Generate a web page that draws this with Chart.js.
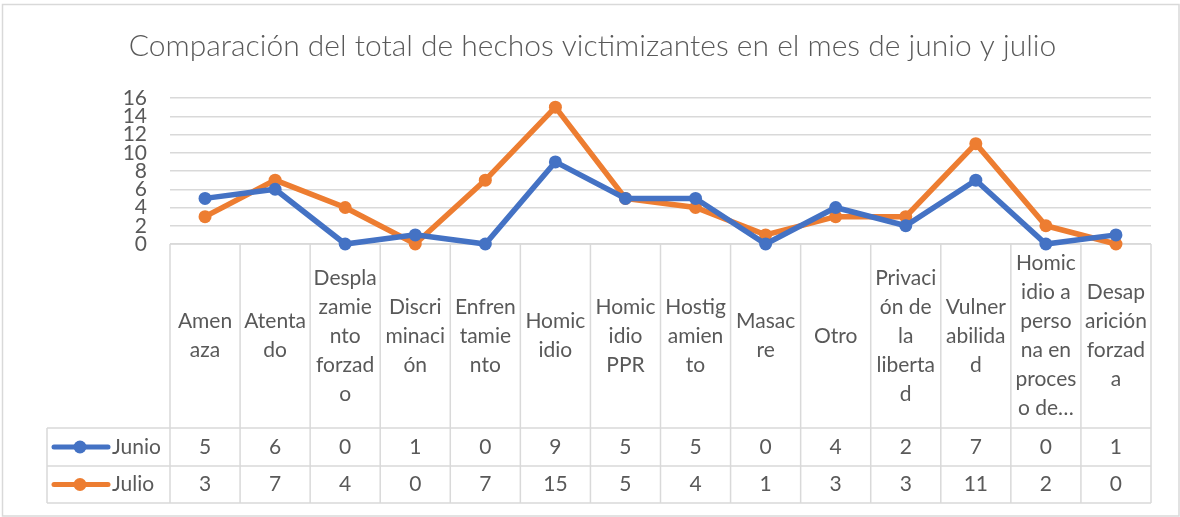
<!DOCTYPE html>
<html lang="es">
<head>
<meta charset="utf-8">
<title>Hechos victimizantes junio y julio</title>
<script src="https://cdn.jsdelivr.net/npm/chart.js@4"></script>
<style>
  html, body { margin: 0; padding: 0; background: #fff; }
  canvas { display: block; }
</style>
</head>
<body>
<canvas id="chart" width="1180" height="517"></canvas>
<script>
// --- données ---
const categories = [
  ['Amen', 'aza'],
  ['Atenta', 'do'],
  ['Despla', 'zamie', 'nto', 'forzad', 'o'],
  ['Discri', 'minaci', 'ón'],
  ['Enfren', 'tamie', 'nto'],
  ['Homic', 'idio'],
  ['Homic', 'idio', 'PPR'],
  ['Hostig', 'amien', 'to'],
  ['Masac', 're'],
  ['Otro'],
  ['Privaci', 'ón de', 'la', 'liberta', 'd'],
  ['Vulner', 'abilida', 'd'],
  ['Homic', 'idio a', 'perso', 'na en', 'proces', 'o de…'],
  ['Desap', 'arición', 'forzad', 'a']
];
const junio = [5, 6, 0, 1, 0, 9, 5, 5, 0, 4, 2, 7, 0, 1];
const julio = [3, 7, 4, 0, 7, 15, 5, 4, 1, 3, 3, 11, 2, 0];
const yTicks = [0, 2, 4, 6, 8, 10, 12, 14, 16];

const FONT = 'Lato';
const TEXT = '#595959';
const GRID = '#d9d9d9';

// --- tableau de données sous le graphique ---
const dataTable = {
  id: 'dataTable',
  beforeDatasetsDraw(chart) {
    const ctx = chart.ctx;
    const x = chart.scales.x;
    const area = chart.chartArea;
    const w = x.getPixelForValue(1) - x.getPixelForValue(0);
    const left = area.left, right = area.right;
    const top = area.bottom;
    const rowCat = 428, rowA = 466, rowB = 503;
    const legLeft = 47;

    ctx.save();
    ctx.strokeStyle = GRID;
    ctx.lineWidth = 1.5;
    ctx.beginPath();
    // lignes horizontales
    ctx.moveTo(left, top); ctx.lineTo(right, top);
    [rowCat, rowA, rowB].forEach(y => { ctx.moveTo(legLeft, y); ctx.lineTo(right, y); });
    // lignes verticales
    for (let i = 0; i <= categories.length; i++) {
      const px = x.getPixelForValue(0) - w / 2 + i * w;
      ctx.moveTo(px, top); ctx.lineTo(px, rowB);
    }
    ctx.moveTo(legLeft, rowCat); ctx.lineTo(legLeft, rowB);
    ctx.stroke();

    ctx.fillStyle = TEXT;
    ctx.font = '21px ' + FONT;
    ctx.textAlign = 'center';
    ctx.textBaseline = 'middle';
    const midCat = (top + rowCat) / 2;
    categories.forEach((lines, i) => {
      const cx = x.getPixelForValue(i);
      const y0 = midCat - (lines.length - 1) * 29 / 2;
      lines.forEach((t, j) => ctx.fillText(t, cx, y0 + j * 29));
    });

    const rows = [(rowCat + rowA) / 2, (rowA + rowB) / 2];
    chart.data.datasets.forEach((ds, k) => {
      const y = rows[k];
      ds.data.forEach((v, i) => {
        ctx.fillStyle = TEXT;
        ctx.textAlign = 'center';
        ctx.fillText(String(v), x.getPixelForValue(i), y);
      });
      // clé de légende
      ctx.strokeStyle = ds.borderColor;
      ctx.lineWidth = 5;
      ctx.lineCap = 'round';
      ctx.beginPath();
      ctx.moveTo(54, y); ctx.lineTo(108, y);
      ctx.stroke();
      ctx.fillStyle = ds.borderColor;
      ctx.beginPath();
      ctx.arc(80, y, 6.5, 0, Math.PI * 2);
      ctx.fill();
      ctx.fillStyle = TEXT;
      ctx.textAlign = 'left';
      ctx.fillText(ds.label, 112, y);
    });
    ctx.restore();
  },
  afterDraw(chart) {
    const ctx = chart.ctx;
    ctx.save();
    ctx.strokeStyle = GRID;
    ctx.lineWidth = 1.5;
    ctx.strokeRect(2.5, 4.5, 1176.5, 511.5);
    ctx.restore();
  }
};

const lineStyle = color => ({
  borderColor: color,
  backgroundColor: color,
  borderWidth: 5.5,
  pointRadius: 6.5,
  pointBorderWidth: 0,
  pointBackgroundColor: color,
  tension: 0,
  clip: false
});

new Chart(document.getElementById('chart'), {
  type: 'line',
  data: {
    labels: categories,
    datasets: [
      { label: 'Junio', data: junio, ...lineStyle('#4472C4') },
      { label: 'Julio', data: julio, ...lineStyle('#ED7D31') }
    ]
  },
  options: {
    responsive: false,
    animation: false,
    layout: { padding: { left: 34, right: 29, top: 0, bottom: 273 } },
    plugins: {
      legend: { display: false },
      tooltip: { enabled: false },
      title: {
        display: true,
        text: 'Comparación del total de hechos victimizantes en el mes de junio y julio',
        color: TEXT,
        font: { family: FONT, size: 30, weight: '300', lineHeight: 1.2 },
        padding: { top: 28, bottom: 34 }
      }
    },
    scales: {
      x: {
        type: 'category',
        offset: true,
        display: false
      },
      y: {
        min: 0,
        max: 16,
        afterFit: s => { s.width = 136; },
        afterBuildTicks: s => { s.ticks = yTicks.map(v => ({ value: v })); },
        ticks: {
          autoSkip: false,
          color: TEXT,
          padding: 23,
          font: { family: FONT, size: 21, lineHeight: 1 }
        },
        grid: { color: GRID, lineWidth: 1.5, drawTicks: false },
        border: { display: false }
      }
    }
  },
  plugins: [dataTable]
});
</script>
</body>
</html>
